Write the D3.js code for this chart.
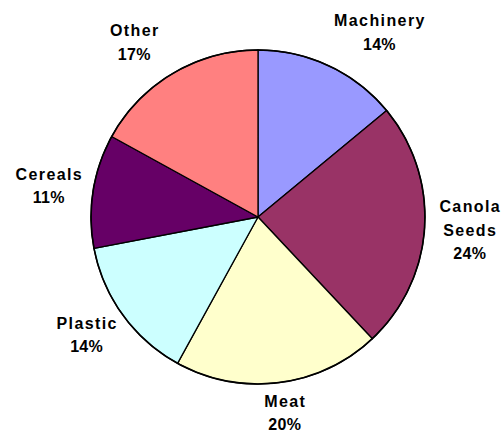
<!DOCTYPE html>
<html>
<head>
<meta charset="utf-8">
<script src="https://cdn.jsdelivr.net/npm/d3@7"></script>
<style>
  html, body { margin: 0; padding: 0; background: #fff; }
  svg { display: block; }
  text { font-family: "Liberation Sans", Arial, sans-serif; font-weight: bold; fill: #000; }
</style>
</head>
<body>
<script>
// ---- Data ----
const categories = ["Machinery", "Canola Seeds", "Meat", "Plastic", "Cereals", "Other"];
const nameLines  = [["Machinery"], ["Canola", "Seeds"], ["Meat"], ["Plastic"], ["Cereals"], ["Other"]];
const values     = [14, 24, 20, 14, 11, 17];
const percentLabels = ["14%", "24%", "20%", "14%", "11%", "17%"];
const colors     = ["#9999FF", "#993366", "#FFFFCC", "#CCFFFF", "#660066", "#FF8080"];

// ---- Layout ----
const W = 501, H = 434;
const cx = 258, cy = 217, R = 167;
const labelRx = 212, labelRy = 200, lineH = 23.5;
const labelNudge = { "Machinery": [31, -4], "Other": [-16, -3], "Meat": [0, -3] };

const svg = d3.select("body").append("svg").attr("width", W).attr("height", H);
const g = svg.append("g").attr("transform", `translate(${cx},${cy})`);

const data = categories.map((c, i) => ({ name: c, lines: nameLines[i], value: values[i], pct: percentLabels[i], color: colors[i] }));

const pie = d3.pie().value(d => d.value).sort(null);
const arc = d3.arc().innerRadius(0).outerRadius(R);
const arcs = pie(data);

g.selectAll("path.slice").data(arcs).join("path")
  .attr("class", "slice")
  .attr("d", arc)
  .attr("fill", d => d.data.color)
  .attr("stroke", "#000")
  .attr("stroke-width", 1.3)
  .attr("stroke-linejoin", "round");

// outer rim
g.append("circle").attr("r", R).attr("fill", "none").attr("stroke", "#000").attr("stroke-width", 1.6);

g.selectAll("text.lbl").data(arcs).join("text")
  .attr("class", "lbl")
  .attr("text-anchor", "middle")
  .attr("font-size", 16)
  .each(function(d) {
    const a = (d.startAngle + d.endAngle) / 2;
    const nudge = labelNudge[d.data.name] || [0, 0];
    const x = labelRx * Math.sin(a) + nudge[0];
    const y = -labelRy * Math.cos(a) + nudge[1];
    const lines = d.data.lines.concat([d.data.pct]);
    const n = lines.length;
    const firstBaseline = y + 6 - (n - 1) * lineH / 2;
    const t = d3.select(this);
    lines.forEach((ln, i) => {
      const isPct = i === n - 1;
      const ls = isPct ? 0.3 : 1.4;
      t.append("tspan")
        .attr("x", x + ls / 2)
        .attr("y", firstBaseline + i * lineH)
        .attr("letter-spacing", ls)
        .text(ln);
    });
  });
</script>
</body>
</html>
